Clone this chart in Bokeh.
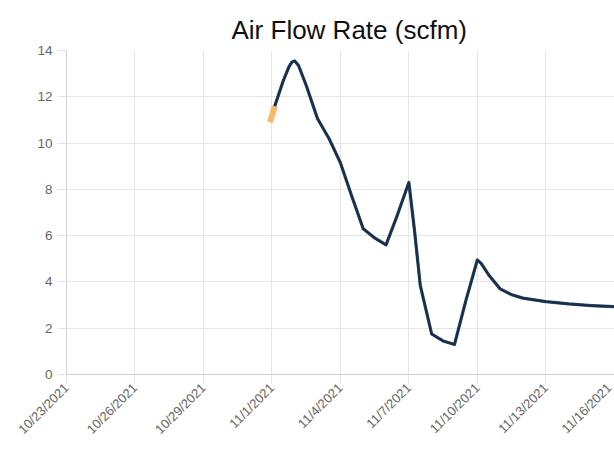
import pandas as pd
from bokeh.plotting import figure
from bokeh.models import FixedTicker, Range1d, Title
from bokeh.embed import file_html
from bokeh.resources import INLINE

title = "Air Flow Rate (scfm)"

# main series
flow_times = ["2021-11-01 03:00", "2021-11-01 12:00", "2021-11-01 18:00", "2021-11-01 21:00",
              "2021-11-02 00:00", "2021-11-02 04:00",
              "2021-11-02 12:00", "2021-11-03 00:00", "2021-11-03 12:00", "2021-11-04 00:00",
              "2021-11-04 12:00", "2021-11-05 00:00", "2021-11-05 12:00", "2021-11-06 00:00",
              "2021-11-06 12:00", "2021-11-07 00:00", "2021-11-07 06:00", "2021-11-07 12:00",
              "2021-11-08 00:00", "2021-11-08 12:00", "2021-11-09 00:00", "2021-11-09 12:00",
              "2021-11-10 00:00", "2021-11-10 04:00", "2021-11-10 12:00", "2021-11-11 00:00",
              "2021-11-11 12:00",
              "2021-11-12 00:00", "2021-11-13 00:00", "2021-11-14 00:00", "2021-11-15 00:00",
              "2021-11-16 00:00", "2021-11-17 00:00"]
flow_values = [11.6, 12.7, 13.3, 13.5,
               13.55, 13.35,
               12.5, 11.05, 10.2, 9.15,
               7.7, 6.3, 5.9, 5.6,
               6.9, 8.3, 6.2, 3.85,
               1.75, 1.45, 1.3, 3.2,
               4.95, 4.8, 4.3, 3.7,
               3.45,
               3.3, 3.15, 3.05, 2.98,
               2.93, 2.9]

# short orange series
orange_times = ["2021-10-31 22:00", "2021-11-01 03:00"]
orange_values = [10.9, 11.6]

tick_dates = ["2021-10-23", "2021-10-26", "2021-10-29", "2021-11-01", "2021-11-04",
              "2021-11-07", "2021-11-10", "2021-11-13", "2021-11-16"]
tick_labels = ["10/23/2021", "10/26/2021", "10/29/2021", "11/1/2021", "11/4/2021",
               "11/7/2021", "11/10/2021", "11/13/2021", "11/16/2021"]
y_ticks = [0, 2, 4, 6, 8, 10, 12, 14]

def ms(s):
    return pd.Timestamp(s).value / 1e6

x0 = ms("2021-10-23")
day = 86400000.0

p = figure(width=614, height=445, x_axis_type="datetime", output_backend="svg",
           toolbar_location=None, min_border_left=66, min_border_right=0,
           min_border_bottom=10, min_border_top=0, title=None,
           x_range=Range1d(x0, x0 + 24.01 * day), y_range=Range1d(0, 14))

main_title = Title(text=title, text_font="Liberation Sans", text_font_size="26px",
                   text_font_style="normal", text_color="#111111",
                   align="left", offset=165, standoff=12)
p.add_layout(main_title, "above")
spacer = Title(text=" ", text_font_size="3.3px", standoff=0)
p.add_layout(spacer, "above")

p.outline_line_color = None

p.line([pd.Timestamp(t) for t in orange_times], orange_values,
       line_color="#f7b86a", line_width=6, line_cap="butt")
p.line([pd.Timestamp(t) for t in flow_times], flow_values,
       line_color="#2b5470", line_width=3.2, line_join="round")
p.line([pd.Timestamp(t) for t in flow_times], flow_values,
       line_color="#1b2e49", line_width=2.2, line_join="round")

tick_ms = [ms(d) for d in tick_dates]
p.xaxis.ticker = FixedTicker(ticks=tick_ms)
p.xaxis.major_label_overrides = {t: l for t, l in zip(tick_ms, tick_labels)}
p.xaxis.major_label_orientation = 0.785
p.yaxis.ticker = FixedTicker(ticks=y_ticks)

for ax in (p.xaxis, p.yaxis):
    ax.axis_line_color = "#d0d0d0"
    ax.major_tick_line_color = "#e2e2e2"
    ax.major_tick_out = 9
    ax.major_tick_in = 0
    ax.minor_tick_line_color = None
    ax.major_label_text_font = "Liberation Sans"
    ax.major_label_text_color = "#666666"
p.yaxis.major_label_text_font_size = "13.5px"
p.xaxis.major_label_text_font_size = "13px"
p.yaxis.major_label_standoff = 5
p.xaxis.major_label_standoff = 2

p.xgrid.grid_line_color = "#e6e6e6"
p.ygrid.grid_line_color = "#e6e6e6"

open("out.html", "w").write(file_html(p, INLINE))
